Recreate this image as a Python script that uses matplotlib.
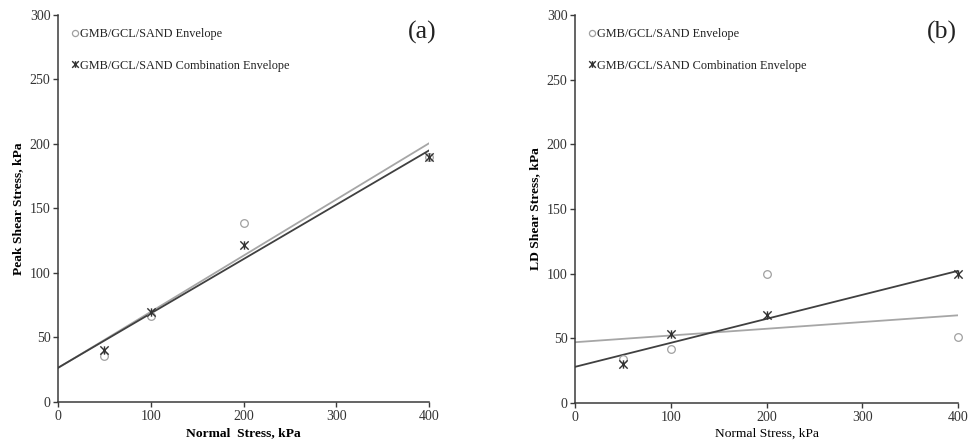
import numpy as np
import matplotlib.pyplot as plt
from matplotlib.path import Path

plt.rcParams['font.family'] = ['Liberation Serif', 'DejaVu Serif']

# data
normal_stress = [50, 100, 200, 400]
peak_env = [36, 67, 139, 190]
peak_comb = [40, 70, 122, 190]
ld_env = [34, 42, 100, 51]
ld_comb = [30, 53, 68, 100]

env_label = 'GMB/GCL/SAND Envelope'
comb_label = 'GMB/GCL/SAND Combination Envelope'

# asterisk marker like the Excel "star"
star = Path([(-1, -1), (1, 1), (-1, 1), (1, -1), (0, -1), (0, 1)],
            [Path.MOVETO, Path.LINETO, Path.MOVETO, Path.LINETO, Path.MOVETO, Path.LINETO])

fig = plt.figure(figsize=(9.72, 4.46), dpi=100)
ax1 = fig.add_axes([0.0597, 0.0987, 0.3817, 0.8677])
ax2 = fig.add_axes([0.5916, 0.0964, 0.394, 0.870])


def draw(ax, env, comb, tag, tag_x, ylabel, xlabel, xbold):
    xs = np.array([0, 400])
    p = np.polyfit(normal_stress, env, 1)
    ax.plot(xs, np.polyval(p, xs), color='#a6a6a6', lw=1.3, zorder=2)
    p = np.polyfit(normal_stress, comb, 1)
    ax.plot(xs, np.polyval(p, xs), color='#404040', lw=1.3, zorder=2)
    ax.plot(normal_stress, env, ls='none', marker='o', ms=5.5, mfc='none',
            mec='#a0a0a0', mew=0.9, label=env_label, zorder=3, clip_on=False)
    ax.plot(normal_stress, comb, ls='none', marker=star, ms=6, mec='#333333',
            mew=1.0, label=comb_label, zorder=3, clip_on=False)
    ax.set_xlim(0, 400)
    ax.set_ylim(0, 300)
    ax.set_xticks(range(0, 401, 100))
    ax.set_yticks(range(0, 301, 50))
    for s in ['top', 'right']:
        ax.spines[s].set_visible(False)
    for s in ['left', 'bottom']:
        ax.spines[s].set_color('#3a3a3a')
        ax.spines[s].set_linewidth(1.1)
    ax.tick_params(direction='out', length=3.5, width=1.0, color='#3a3a3a',
                   labelsize=10, labelcolor='#333333', pad=2)
    ax.set_ylabel(ylabel, fontsize=9.7, fontweight='bold', labelpad=4)
    ax.set_xlabel(xlabel, fontsize=9.7, fontweight='bold' if xbold else 'normal',
                  labelpad=3)
    ax.legend(loc='upper left', frameon=False, fontsize=8.8, handlelength=0.4,
              handletextpad=0.2, labelspacing=1.6, borderaxespad=0.2,
              bbox_to_anchor=(0.02, 0.985), markerscale=0.8, labelcolor='#222222')
    ax.text(tag_x, 0.955, tag, transform=ax.transAxes, fontsize=18.5,
            ha='center', va='center', color='#222222')


draw(ax1, peak_env, peak_comb, '(a)', 0.981, 'Peak Shear Stress, kPa',
     'Normal  Stress, kPa', True)
draw(ax2, ld_env, ld_comb, '(b)', 0.957, 'LD Shear Stress, kPa',
     'Normal Stress, kPa', False)

fig.savefig('out.png', dpi=100)
